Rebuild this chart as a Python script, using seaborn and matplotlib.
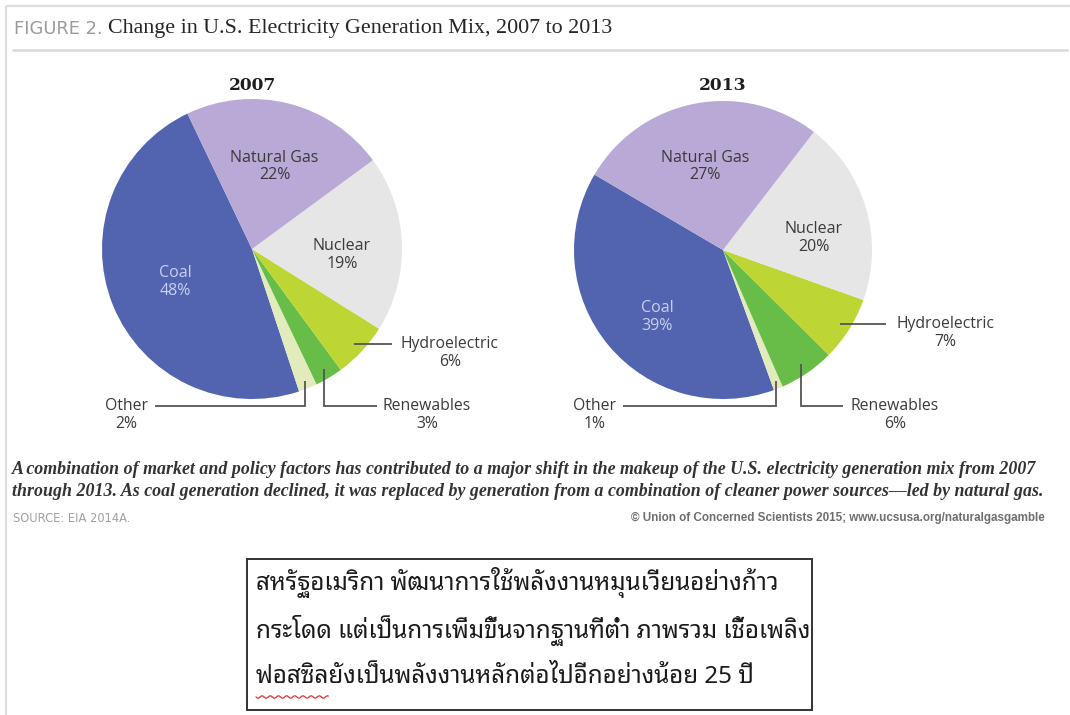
import numpy as np
import matplotlib
matplotlib.use("Agg")
import matplotlib.pyplot as plt
from matplotlib import font_manager as fm
from matplotlib.ft2font import FT2Font
from matplotlib.patches import Rectangle
import seaborn as sns

# ---- data -------------------------------------------------------------
sources = ["Coal", "Other", "Renewables", "Hydroelectric", "Nuclear", "Natural Gas"]
share_2007 = [48, 2, 3, 6, 19, 22]
share_2013 = [39, 1, 6, 7, 20, 27]
years = ["2007", "2013"]

title_prefix = "FIGURE 2."
title_text = "Change in U.S. Electricity Generation Mix, 2007 to 2013"
caption_lines = [
    "A combination of market and policy factors has contributed to a major shift in the makeup of the U.S. electricity generation mix from 2007",
    "through 2013. As coal generation declined, it was replaced by generation from a combination of cleaner power sources\u2014led by natural gas.",
]
source_text = "SOURCE: EIA 2014A."
credit_text = "\u00a9 Union of Concerned Scientists 2015; www.ucsusa.org/naturalgasgamble"
note_lines = [
    "สหรัฐอเมริกา พัฒนาการใช้พลังงานหมุนเวียนอย่างก้าว",
    "กระโดด แต่เป็นการเพิ่มขึ้นจากฐานที่ต่ำ ภาพรวม เชื้อเพลิง",
    "ฟอสซิลยังเป็นพลังงานหลักต่อไปอีกอย่างน้อย 25 ปี",
]

# ---- style ------------------------------------------------------------
colors = ["#5264b0", "#e2ebbb", "#68bd48", "#bed633", "#e6e6e6", "#b9a9d6"]
sns.set_theme(style="white")
palette = sns.color_palette(colors)
label_font = "Open Sans"
dark = "#3a3a3a"


def font_with(sample, preferred=()):
    """Return an installed family that covers every character in sample."""
    found = []
    for f in fm.fontManager.ttflist:
        try:
            cmap = FT2Font(f.fname).get_charmap()
        except Exception:
            continue
        if all(ord(c) in cmap for c in sample if not c.isspace()):
            found.append(f.name)
    for p in preferred:
        for name in found:
            if p.lower() in name.lower():
                return name
    return found[0] if found else "DejaVu Sans"


thai_font = font_with("สหรัฐอเมริกาพัฒนาใช้ปีต่ำ", preferred=("Noto Sans Thai", "Sans Thai", "Thai", "Sans"))

W, H = 1070, 715
fig = plt.figure(figsize=(W / 100, H / 100), dpi=100)
fig.patch.set_facecolor("white")

# full-figure overlay in pixel coordinates (origin top-left)
bg = fig.add_axes([0, 0, 1, 1], zorder=3)
bg.set_xlim(0, W)
bg.set_ylim(H, 0)
bg.axis("off")
bg.patch.set_alpha(0)

# page frame and title rule
bg.plot([6, W], [6, 6], color="#dedede", lw=1.6, solid_capstyle="butt")
bg.plot([6, 6], [6, H], color="#dedede", lw=1.6, solid_capstyle="butt")
bg.plot([12, W - 2], [50, 50], color="#d9d9d9", lw=1.8, solid_capstyle="butt")

t_prefix = bg.text(14, 29, title_prefix, fontsize=10.2, color="#9b9b9b", family="DejaVu Sans",
                   va="center", ha="left")
t_title = bg.text(108, 28, title_text, fontsize=14.2, color="#262626",
                  family="Liberation Serif", va="center", ha="left")

# ---- pies ---------------------------------------------------------------
pie_layout = [
    dict(cx=252, cy=249, r=150, start=115.5,
         inner={"Natural Gas": (0.15, 0.55), "Nuclear": (0.60, -0.04), "Coal": (-0.51, -0.22)},
         hydro_end=392, hydro_text=401, ren_end=377, ren_text=383, oth_end=155, oth_text=148),
    dict(cx=723, cy=250, r=149, start=149.6,
         inner={"Natural Gas": (-0.12, 0.56), "Nuclear": (0.61, 0.08), "Coal": (-0.44, -0.45)},
         hydro_end=886, hydro_text=896, ren_end=843, ren_text=851, oth_end=623, oth_text=616),
]
row_y = 406
line_kw = dict(color="#555555", lw=1.3, solid_capstyle="butt", solid_joinstyle="miter")

for year, shares, lay in zip(years, [share_2007, share_2013], pie_layout):
    cx, cy, R = lay["cx"], lay["cy"], lay["r"]
    ax = fig.add_axes([(cx - R) / W, 1 - (cy + R) / H, 2 * R / W, 2 * R / H], zorder=1)
    wedges, _ = ax.pie(shares, colors=palette, startangle=lay["start"], counterclock=True,
                       radius=1.0, wedgeprops=dict(linewidth=0))
    ax.set_xlim(-1, 1)
    ax.set_ylim(-1, 1)
    ax.axis("off")

    bg.text(cx, 85, year, fontsize=12.3, fontweight="bold", family="DejaVu Serif",
            color="#1e1e1e", ha="center", va="center")

    mids = {}
    for name, w in zip(sources, wedges):
        mids[name] = np.deg2rad((w.theta1 + w.theta2) / 2)

    # labels inside the large slices
    for name, val in zip(sources, shares):
        if name in lay["inner"]:
            ux, uy = lay["inner"][name]
            col = "#c9cfee" if name == "Coal" else dark
            bg.text(cx + ux * R, cy - uy * R, f"{name}\n{val}%", family=label_font,
                    fontsize=11.5, color=col, ha="center", va="center",
                    multialignment="center", linespacing=1.15)

    def anchor(name, k=0.93):
        a = mids[name]
        return cx + k * R * np.cos(a), cy - k * R * np.sin(a)

    vals = dict(zip(sources, shares))

    # hydroelectric: straight leader to the right
    hx, hy = anchor("Hydroelectric")
    bg.plot([hx, lay["hydro_end"]], [hy, hy], **line_kw)
    bg.text(lay["hydro_text"], hy + 9, f"Hydroelectric\n{vals['Hydroelectric']}%",
            family=label_font, fontsize=11.3, color=dark, ha="left", va="center",
            multialignment="center", linespacing=1.15)

    # renewables: down, then right
    rx, ry = anchor("Renewables")
    bg.plot([rx, rx, lay["ren_end"]], [ry, row_y, row_y], **line_kw)
    bg.text(lay["ren_text"], row_y + 9, f"Renewables\n{vals['Renewables']}%",
            family=label_font, fontsize=11.3, color=dark, ha="left", va="center",
            multialignment="center", linespacing=1.15)

    # other: down, then left
    ox, oy = anchor("Other", 0.95)
    bg.plot([ox, ox, lay["oth_end"]], [oy, row_y, row_y], **line_kw)
    bg.text(lay["oth_text"], row_y + 9, f"Other\n{vals['Other']}%",
            family=label_font, fontsize=11.3, color=dark, ha="right", va="center",
            multialignment="center", linespacing=1.15)

# ---- caption and credits -------------------------------------------------
cap_texts = []
for i, line in enumerate(caption_lines):
    cap_texts.append(bg.text(12, 470 + 22 * i, line, family="Liberation Serif",
                             style="italic", fontweight="bold", fontsize=13, color="#333333",
                             ha="left", va="center"))
t_src = bg.text(13, 518, source_text, family="DejaVu Sans", fontsize=8.3, color="#a0a0a0",
                ha="left", va="center")
t_cred = bg.text(1045, 518, credit_text, family="Liberation Sans", fontsize=8.5,
                 color="#6e6e6e", ha="right", va="center", fontweight="bold")

# ---- note box ----------------------------------------------------------
bg.add_patch(Rectangle((247, 559), 565, 151, fill=False, edgecolor="#333333", lw=1.4))
note_texts = []
for i, line in enumerate(note_lines):
    note_texts.append(bg.text(256, 583 + 47 * i, line, family=[thai_font, "DejaVu Sans"],
                              fontsize=16, color="#1a1a1a", ha="left", va="center"))

# size text blocks to their measured widths
fig.canvas.draw()
rend = fig.canvas.get_renderer()


def fit(t, target):
    w = t.get_window_extent(rend).width
    t.set_fontsize(t.get_fontsize() * target / w)


fit(t_prefix, 88)
fit(t_title, 507)
fit(cap_texts[0], 1031)
fit(cap_texts[1], 1028)
cap_size = min(t.get_fontsize() for t in cap_texts)
for t in cap_texts:
    t.set_fontsize(cap_size)
fit(t_cred, 412)
fit(note_texts[1], 555)
for t in note_texts:
    t.set_fontsize(note_texts[1].get_fontsize())

# spelling-check squiggle under the first word of the last note line
fig.canvas.draw()
first_word = bg.text(256, 677, "ฟอสซิล", family=[thai_font, "DejaVu Sans"],
                     fontsize=note_texts[2].get_fontsize(), alpha=0, ha="left", va="center")
ww = first_word.get_window_extent(rend).width
sx = np.linspace(256, 256 + ww, 80)
bg.plot(sx, 697 + 1.2 * np.sin((sx - 256) / 1.3), color="#e03030", lw=0.9)

fig.savefig("out.png", dpi=100, facecolor="white")
